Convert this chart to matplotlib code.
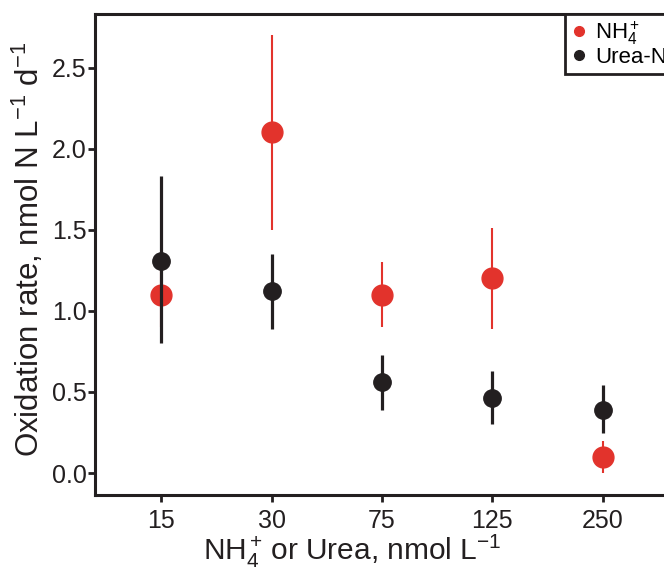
import matplotlib.pyplot as plt
import numpy as np

plt.rcParams['font.family'] = ['Liberation Sans', 'DejaVu Sans']
plt.rcParams['mathtext.fontset'] = 'custom'
plt.rcParams['mathtext.rm'] = 'Liberation Sans'
plt.rcParams['mathtext.it'] = 'Liberation Sans:italic'

# Data
conc_labels = ['15', '30', '75', '125', '250']

nh4_rate = [1.10, 2.10, 1.10, 1.20, 0.10]
nh4_low = [0.90, 1.50, 0.90, 0.89, 0.00]
nh4_high = [1.30, 2.70, 1.30, 1.51, 0.20]

urea_rate = [1.31, 1.12, 0.56, 0.46, 0.39]
urea_low = [0.80, 0.89, 0.39, 0.30, 0.25]
urea_high = [1.83, 1.35, 0.73, 0.63, 0.54]

red = '#e2332c'
black = '#231f20'

fig = plt.figure(figsize=(6.64, 5.77), dpi=100)
ax = fig.add_axes([95/664, 82/577, (690-95)/664, (495-14)/577])

x = np.arange(len(conc_labels))

# NH4+ series
nh4_err = [np.array(nh4_rate) - np.array(nh4_low), np.array(nh4_high) - np.array(nh4_rate)]
ax.errorbar(x, nh4_rate, yerr=nh4_err, fmt='o', color=red, ecolor=red,
            elinewidth=1.5, markersize=15, capsize=0, zorder=2)

# Urea-N series
urea_err = [np.array(urea_rate) - np.array(urea_low), np.array(urea_high) - np.array(urea_rate)]
ax.errorbar(x, urea_rate, yerr=urea_err, fmt='o', color=black, ecolor=black,
            elinewidth=2.3, markersize=12.5, capsize=0, zorder=3)

ax.set_xlim(-0.6, 4.79)
ax.set_ylim(-0.135, 2.83)
ax.set_xticks(x)
ax.set_xticklabels(conc_labels)
ax.set_yticks([0.0, 0.5, 1.0, 1.5, 2.0, 2.5])
ax.set_yticklabels(['0.0', '0.5', '1.0', '1.5', '2.0', '2.5'])

for s in ax.spines.values():
    s.set_linewidth(2.2)
    s.set_color(black)

ax.tick_params(axis='both', direction='out', length=5, width=2, color=black,
               labelsize=18, labelcolor=black)
ax.tick_params(axis='y', pad=1)
ax.tick_params(axis='x', pad=5)

ax.set_xlabel(r'NH$_4^+$$\,$or Urea, nmol L$^{-1}$', fontsize=21.5, color=black)
ax.set_ylabel(r'Oxidation rate, nmol N L$^{-1}$ d$^{-1}$', fontsize=22.5, color=black)
ax.xaxis.set_label_coords((352-95)/595, -(533-495)/481)
ax.yaxis.set_label_coords(-(95-46)/595, 0.51)

# Legend
h1, = ax.plot([], [], 'o', color=red, markersize=7)
h2, = ax.plot([], [], 'o', color=black, markersize=7)
leg = fig.legend([h1, h2], [r'NH$_4^+$', 'Urea-N'], loc='upper left',
                 bbox_to_anchor=(565/664, 1 - 14/577), fontsize=16,
                 frameon=True, fancybox=False, borderpad=0.25, handletextpad=0.3,
                 labelspacing=0.0, handlelength=0.8, borderaxespad=0)
leg.get_frame().set_edgecolor(black)
leg.get_frame().set_linewidth(2)
leg.get_frame().set_alpha(1)

fig.savefig('out.png', dpi=100)
